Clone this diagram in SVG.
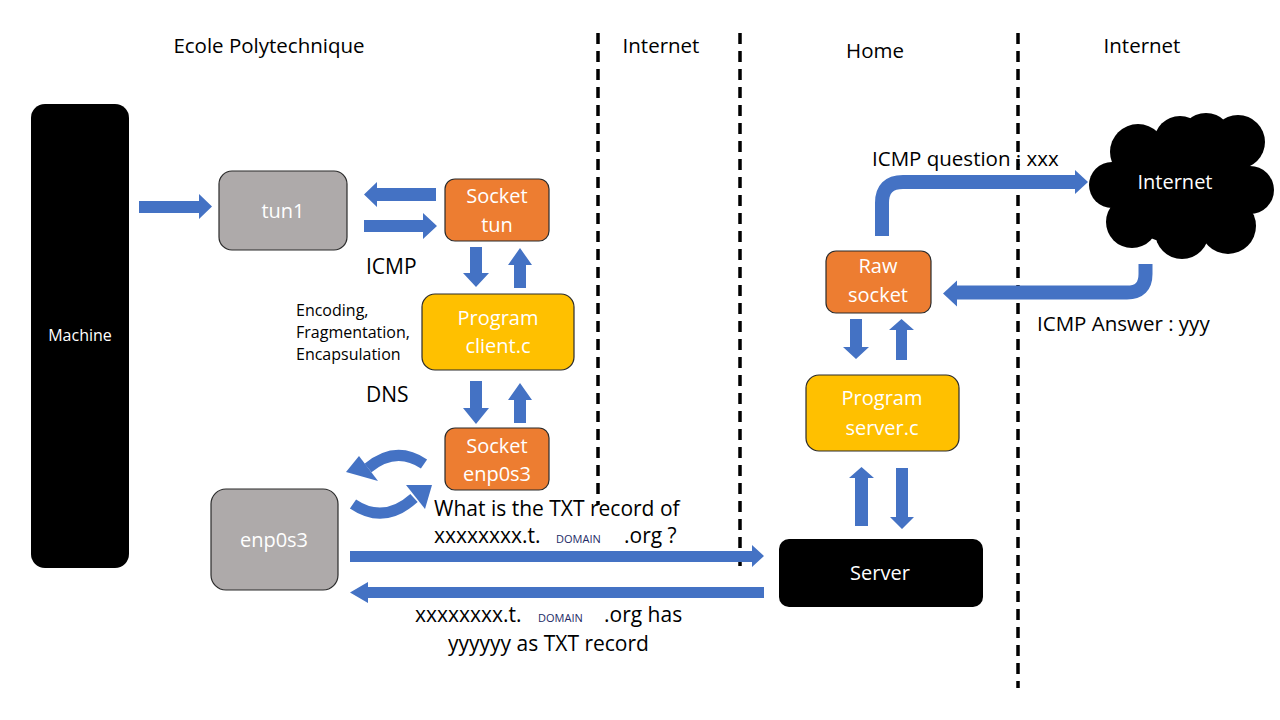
<svg xmlns="http://www.w3.org/2000/svg" width="1280" height="720" viewBox="0 0 1280 720">
<style>
text{font-family:"Open Sans","Liberation Sans",sans-serif;}
.lbl{font-size:21px;fill:#000;}
.title{font-size:20.5px;fill:#000;text-anchor:middle;}
.wt{font-size:20px;fill:#fff;text-anchor:middle;}
.small{font-size:16px;fill:#000;}
.dom{font-size:11px;fill:#222a66;}
.gray{fill:#AEAAAA;stroke:#2b2b2b;stroke-width:1.2;}
.orange{fill:#ED7D31;stroke:#2b2b2b;stroke-width:1.2;}
.yellow{fill:#FFC000;stroke:#2b2b2b;stroke-width:1.2;}
.black{fill:#000;}
.arr{fill:#4472C4;}
.band{fill:none;stroke:#4472C4;}
.dash{stroke:#000;stroke-width:3.5;stroke-dasharray:11 7;fill:none;}
</style>
<rect width="1280" height="720" fill="#fff"/>

<g id="separators">
<line class="dash" x1="598" y1="33" x2="598" y2="505"/>
<line class="dash" x1="740" y1="33" x2="740" y2="570"/>
<line class="dash" x1="1018" y1="33" x2="1018" y2="688"/>
</g>

<g id="titles">
<text class="title" x="269" y="53">Ecole Polytechnique</text>
<text class="title" x="661" y="53">Internet</text>
<text class="title" x="875" y="58">Home</text>
<text class="title" x="1142" y="53">Internet</text>
</g>

<g id="machine">
<rect class="black" x="31" y="104" width="98" height="464" rx="14"/>
<text class="wt" x="80" y="341" style="font-size:16px">Machine</text>
</g>

<g id="tun1">
<rect class="gray" x="219" y="171" width="128" height="79" rx="13"/>
<text class="wt" x="283" y="218">tun1</text>
</g>

<g id="socket-tun">
<rect class="orange" x="445" y="179" width="104" height="62" rx="10"/>
<text class="wt" x="497" y="203">Socket</text>
<text class="wt" x="497" y="232">tun</text>
</g>

<g id="program-client">
<rect class="yellow" x="422" y="294" width="152" height="76" rx="13"/>
<text class="wt" x="498" y="325">Program</text>
<text class="wt" x="498" y="353">client.c</text>
</g>

<g id="socket-enp0s3">
<rect class="orange" x="445" y="428" width="104" height="62" rx="10"/>
<text class="wt" x="497" y="453">Socket</text>
<text class="wt" x="497" y="481">enp0s3</text>
</g>

<g id="enp0s3">
<rect class="gray" x="211" y="489" width="127" height="101" rx="15"/>
<text class="wt" x="274" y="547">enp0s3</text>
</g>

<g id="raw-socket">
<rect class="orange" x="826" y="251" width="105" height="62" rx="10"/>
<text class="wt" x="878" y="273">Raw</text>
<text class="wt" x="878" y="302">socket</text>
</g>

<g id="program-server">
<rect class="yellow" x="806" y="375" width="153" height="76" rx="13"/>
<text class="wt" x="882" y="405">Program</text>
<text class="wt" x="882" y="435">server.c</text>
</g>

<g id="server">
<rect class="black" x="779" y="539" width="204" height="68" rx="10"/>
<text class="wt" x="880" y="580">Server</text>
</g>

<g id="internet-cloud">
<circle class="black" cx="1112" cy="185" r="23"/>
<circle class="black" cx="1138" cy="152" r="28"/>
<circle class="black" cx="1180" cy="142" r="26"/>
<circle class="black" cx="1206" cy="140" r="27"/>
<circle class="black" cx="1238" cy="142" r="27"/>
<circle class="black" cx="1250" cy="190" r="24"/>
<circle class="black" cx="1228" cy="226" r="28"/>
<circle class="black" cx="1182" cy="232" r="27"/>
<circle class="black" cx="1132" cy="222" r="26"/>
<ellipse class="black" cx="1182" cy="186" rx="72" ry="58"/>
<text class="wt" x="1175" y="189">Internet</text>
</g>

<g id="connectors">
<polygon class="arr" points="139,201 199,201 199,194 212,206.5 199,219 199,213 139,213"/>
<polygon class="arr" points="436,188 377,188 377,182 364,194.5 377,207 377,201 436,201"/>
<polygon class="arr" points="364,220 423,220 423,213 437,226 423,239 423,232 364,232"/>
<polygon class="arr" points="470,247 482,247 482,273 489,273 476,287 463,273 470,273"/>
<polygon class="arr" points="514,288 526,288 526,265 532,265 520,248 508,265 514,265"/>
<polygon class="arr" points="470,381 482,381 482,408 489,408 476,424 463,408 470,408"/>
<polygon class="arr" points="514,423 526,423 526,400 532,400 520,383 508,400 514,400"/>
<path class="band" stroke-width="11" d="M424 464 Q396 445 368 468"/>
<polygon class="arr" points="378,481 359,456 346,472"/>
<path class="band" stroke-width="11" d="M353 504 Q384 525 414 498"/>
<polygon class="arr" points="425,509 406,485 432,485"/>
<polygon class="arr" points="350,551 752,551 752,545 764,556 752,567 752,562 350,562"/>
<polygon class="arr" points="764,587 368,587 368,582 350,592.5 368,603 368,598 764,598"/>
<polygon class="arr" points="850,319 862,319 862,347 869,347 856,359 843,347 850,347"/>
<polygon class="arr" points="896,360 907,360 907,330 914,330 901.5,319 889,330 896,330"/>
<polygon class="arr" points="855,526 868,526 868,478 874,478 861.5,467 849,478 855,478"/>
<polygon class="arr" points="896,468 908,468 908,517 914,517 902,529 890,517 896,517"/>
<path class="band" stroke-width="14" d="M882 236 V203 Q882 182 903 182 H1076"/>
<polygon class="arr" points="1075,170 1088,182 1075,194"/>
<path class="band" stroke-width="14" d="M1145.5 264 V274 Q1145.5 292.5 1127 292.5 H956"/>
<polygon class="arr" points="957,280.5 943,293.5 957,306.5"/>
</g>

<g id="labels">
<text class="lbl" x="366" y="274">ICMP</text>
<text class="lbl" x="366" y="402">DNS</text>
<text class="small" x="296" y="316">Encoding,</text>
<text class="small" x="296" y="338">Fragmentation,</text>
<text class="small" x="296" y="360">Encapsulation</text>
<text class="lbl" x="434" y="516">What is the TXT record of</text>
<text class="lbl" x="434" y="543">xxxxxxxx.t.</text>
<text class="dom" x="556" y="543">DOMAIN</text>
<text class="lbl" x="624" y="543">.org  ?</text>
<text class="lbl" x="415" y="622">xxxxxxxx.t.</text>
<text class="dom" x="538" y="622">DOMAIN</text>
<text class="lbl" x="604" y="622">.org  has</text>
<text class="lbl" x="448" y="651">yyyyyy as TXT record</text>
<text class="lbl" x="872" y="166" style="font-size:20.5px">ICMP question : xxx</text>
<text class="lbl" x="1037" y="331" style="font-size:20.5px">ICMP Answer : yyy</text>
</g>
</svg>
